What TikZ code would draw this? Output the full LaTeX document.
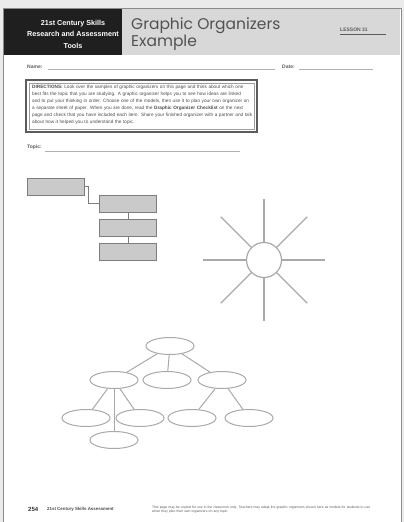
\documentclass[tikz,border=0pt]{standalone}
\usepackage{fontspec}
\setmainfont{Liberation Sans}
\newfontfamily\titlefont{Poppins}
\usetikzlibrary{shapes.geometric}

\definecolor{pagegrey}{HTML}{EBEBEB}
\definecolor{bandgrey}{HTML}{D8D8D8}
\definecolor{linegrey}{HTML}{A9A9A9}
\definecolor{boxgrey}{HTML}{CACACA}
\definecolor{inkgrey}{HTML}{5C5C5C}

\tikzset{
  flowbox/.style={draw=inkgrey!80, fill=boxgrey, line width=0.9pt, minimum width=57pt, minimum height=17pt, inner sep=0pt},
  oval/.style={draw=linegrey, ellipse, line width=1pt, minimum width=48pt, minimum height=17pt, inner sep=0pt},
  sun/.style={draw=linegrey, circle, line width=1.2pt, minimum size=35pt, inner sep=0pt},
  ray/.style={linegrey, line width=1.2pt},
  link/.style={linegrey, line width=1pt},
  elbow/.style={inkgrey!80, line width=0.8pt},
  rule/.style={black!30, line width=0.5pt},
  label/.style={anchor=west, inner sep=0pt, font=\bfseries\fontsize{5}{5}\selectfont, text=inkgrey}
}

\begin{document}
\begin{tikzpicture}[x=1pt, y=-1pt]
            \useasboundingbox (0,0) rectangle (404,522);

            % Page and header
            \fill[pagegrey] (0,0) rectangle (404,522);
            \fill[white] (3,8) rectangle (401,522);
            \draw[black!45, line width=1pt] (3,522) -- (3,8) -- (401,8) -- (401,522);
            \fill[bandgrey] (4,9) rectangle (400,55);
            \fill[black!88] (4,9) rectangle (122,55);

            \node[align=center, text=white, font=\bfseries\fontsize{7.2}{11.5}\selectfont] (series) at (73,34)
                {21st Century Skills\\Research and Assessment\\Tools};
            \node[anchor=north west, align=left, inner sep=0pt, text=black!68, font=\titlefont\fontsize{15.5}{15}\selectfont] (title) at (131,18)
                {Graphic Organizers\\Example};
            \node[label] (lesson) at (340,30) {LESSON 31};
            \draw[inkgrey, line width=0.8pt] (lesson.south west) ++(0,2) -- ++(46,0);

            % Name, date and topic lines
            \node[label] (name) at (27,67) {Name:};
            \draw[rule] (48,69) -- (275,69);
            \node[label] (date) at (282,67) {Date:};
            \draw[rule] (299,69) -- (373,69);
            \node[label] (topic) at (27,147) {Topic:};
            \draw[rule] (45,151) -- (240,151);

            % Directions
            \draw[inkgrey, line width=2.2pt] (26,80) rectangle (257,132);
            \draw[inkgrey!60, line width=0.4pt] (29,83) rectangle (254,129);
            \node[anchor=north west, inner sep=0pt, text width=220pt, text=black!70, font=\fontsize{4.7}{7}\selectfont] (directions) at (32,85)
                {\textbf{DIRECTIONS:} Look over the samples of graphic organizers on this page and think about which one best fits the topic that you are studying. A graphic organizer helps you to see how ideas are linked and to put your thinking in order. Choose one of the models, then use it to plan your own organizer on a separate sheet of paper. When you are done, read the \textbf{Graphic Organizer Checklist} on the next page and check that you have included each item. Share your finished organizer with a partner and talk about how it helped you to understand the topic.};

            % Sequence chart
            \node[flowbox] (b1) at (56,186.5) {};
            \node[flowbox] (b2) at (128,203.5) {};
            \node[flowbox] (b3) at (128,227.5) {};
            \node[flowbox] (b4) at (128,251.5) {};

            \draw[elbow] (b1.east) -- ++(3,0) |- (b2.west);
            \draw[elbow] (b2) -- (b3);
            \draw[elbow] (b3) -- (b4);

            % Web
            \node[sun] (sun) at (264,260) {};
            \foreach \a in {0,45,...,315} {
                \path (sun.center) ++(\a:61) coordinate (ray\a);
                \draw[ray] (sun) -- (ray\a);
            }

            % Tree
            \node[oval] (top) at (170,346) {};
            \node[oval] (left) at (114,380) {};
            \node[oval] (mid) at (167,380) {};
            \node[oval] (right) at (222,380) {};
            \node[oval] (leftA) at (86,418) {};
            \node[oval] (leftB) at (140,418) {};
            \node[oval] (rightA) at (192,418) {};
            \node[oval] (rightB) at (249,418) {};
            \node[oval] (low) at (114,440) {};

            \draw[link] (top) -- (left);
            \draw[link] (top) -- (mid);
            \draw[link] (top) -- (right);
            \draw[link] (left) -- (leftA);
            \draw[link] (left) -- (leftB);
            \draw[link] (left) -- (low);
            \draw[link] (right) -- (rightA);
            \draw[link] (right) -- (rightB);

            % Footer
            \node[anchor=west, inner sep=0pt, text=black!80, font=\bfseries\fontsize{6}{6}\selectfont] (page) at (28,509) {254};
            \node[anchor=west, inner sep=0pt, text=black!70, font=\bfseries\fontsize{4.4}{4.4}\selectfont] (book) at (47,509.5) {21st Century Skills Assessment};
            \node[anchor=west, inner sep=0pt, text width=222pt, text=black!65, font=\fontsize{3.4}{4.4}\selectfont] (note) at (152,509.5)
                {This page may be copied for use in the classroom only. Teachers may adapt the graphic organizers shown here as models for students to use when they plan their own organizers on any topic.};

        \end{tikzpicture}
\end{document}
